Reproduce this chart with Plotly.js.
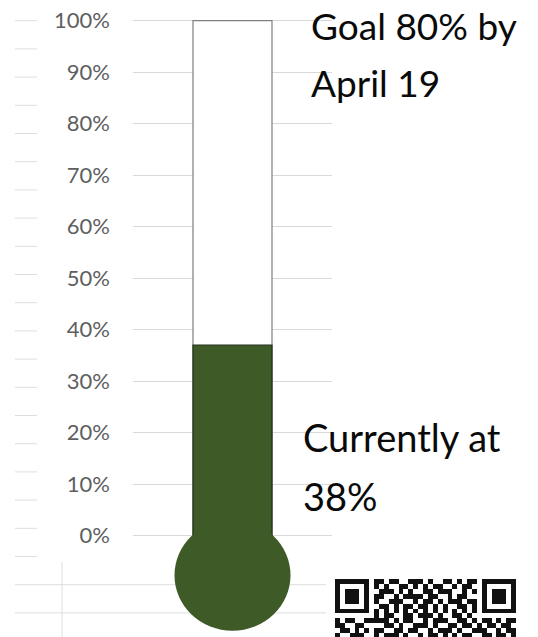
<!DOCTYPE html>
<html>
<head>
<meta charset="utf-8">
<script src="https://cdn.plot.ly/plotly-3.0.1.min.js"></script>
<style>html,body{margin:0;padding:0;background:#fff;}#chart{width:538px;height:637px;}</style>
</head>
<body>
<div id="chart"></div>
<script>
// ---- data ----
const categories = ['Progress'];
const currentPct = [37];
const totalPct = [100];
const tickVals = [0, 10, 20, 30, 40, 50, 60, 70, 80, 90, 100];
const tickText = ['0%', '10%', '20%', '30%', '40%', '50%', '60%', '70%', '80%', '90%', '100%'];
const goalText = ['Goal 80% by', 'April 19'];
const statusText = ['Currently at', '38%'];
const qrRows = [
  '1111111011011001110100110101101111111',
  '1000001010100110101011001011001000001',
  '1011101001110101001101110010101011101',
  '1011101011001011110110010110001011101',
  '1011101010011100101101011101101011101',
  '1000001001101011011010100110101000001',
  '1111111010101010101010101010101111111',
  '0000000010110011011101001101000000000',
  '1011001111101011001011100110101101011',
  '1100110000110100111010011011010110110',
  '0110101011001101100101110100111001011',
  '1001110010111010010110101011001101101'
];

// ---- style / layout constants ----
const W = 538, H = 637;
const px = v => v / W;
const py = v => 1 - v / H;
const green = '#3d5a27';

const qrZ = qrRows.map(r => r.split('').map(Number));

const traces = [
  {type: 'bar', x: categories, y: totalPct, marker: {color: '#ffffff', line: {color: '#7f7f7f', width: 1.2}},
   hoverinfo: 'skip', xaxis: 'x', yaxis: 'y'},
  {type: 'bar', x: categories, y: currentPct, marker: {color: green, line: {color: '#23321a', width: 1.2}},
   hoverinfo: 'skip', xaxis: 'x', yaxis: 'y'},
  {type: 'heatmap', z: qrZ, xaxis: 'x2', yaxis: 'y2', showscale: false, hoverinfo: 'skip',
   colorscale: [[0, '#ffffff'], [1, '#111111']], zmin: 0, zmax: 1}
];

// spreadsheet background lines
const shapes = [];
const rowH = 28.2, firstRow = 20.7;
for (let k = 0; k < 20; k++) {
  const yy = firstRow + k * rowH;
  shapes.push({type: 'line', xref: 'paper', yref: 'paper', x0: px(15), x1: px(37), y0: py(yy), y1: py(yy),
    line: {color: '#dedede', width: 1}, layer: 'below'});
}
for (let k = 20; k < 22; k++) {
  const yy = firstRow + k * rowH;
  shapes.push({type: 'line', xref: 'paper', yref: 'paper', x0: px(15), x1: px(326), y0: py(yy), y1: py(yy),
    line: {color: '#dedede', width: 1}, layer: 'below'});
}
shapes.push({type: 'line', xref: 'paper', yref: 'paper', x0: px(62), x1: px(62), y0: py(562), y1: 0,
  line: {color: '#dedede', width: 1}, layer: 'below'});
// thermometer bulb anchored at the bar's base (0%)
shapes.push({type: 'circle', xref: 'x', yref: 'y', xsizemode: 'pixel', ysizemode: 'pixel',
  xanchor: categories[0], yanchor: tickVals[0], x0: -58, x1: 58, y0: -95, y1: 16,
  fillcolor: green, line: {width: 0}, layer: 'above'});

const fam = 'Lato, "Open Sans", sans-serif';
const annotations = [
  {text: goalText[0], x: px(309), y: py(25), font: {family: fam, size: 37, color: '#0a0a0a'}},
  {text: goalText[1], x: px(309), y: py(83), font: {family: fam, size: 37, color: '#0a0a0a'}},
  {text: statusText[0], x: px(301), y: py(437), font: {family: fam, size: 38, color: '#0a0a0a'}},
  {text: statusText[1], x: px(301), y: py(496), font: {family: fam, size: 38, color: '#0a0a0a'}}
].map(a => Object.assign(a, {xref: 'paper', yref: 'paper', xanchor: 'left', yanchor: 'middle',
  showarrow: false}));

const layout = {
  width: W, height: H,
  margin: {l: 0, r: 0, t: 0, b: 0, pad: 0},
  paper_bgcolor: '#ffffff', plot_bgcolor: 'rgba(0,0,0,0)',
  showlegend: false,
  barmode: 'overlay', bargap: 0.603,
  xaxis: {domain: [px(133), px(332)], type: 'category', range: [-0.5, 0.5], showgrid: false,
    zeroline: false, showticklabels: false, ticks: '', showline: false, fixedrange: true},
  yaxis: {domain: [0, 1], range: [-19.67, 104.02], tickvals: tickVals, ticktext: tickText,
    showgrid: true, gridcolor: '#d9d9d9', gridwidth: 1, zeroline: false, ticks: '', showline: false,
    ticklabelstandoff: 22, tickfont: {family: 'Lato, sans-serif', size: 22, color: '#5f5f5f'}, fixedrange: true},
  xaxis2: {domain: [px(335), px(516)], anchor: 'y2', range: [-0.5, 36.5], visible: false, fixedrange: true},
  yaxis2: {domain: [0, 58 / H], anchor: 'x2', range: [11.34, -0.5], visible: false, fixedrange: true},
  shapes: shapes,
  annotations: annotations
};

Plotly.newPlot('chart', traces, layout, {displayModeBar: false, staticPlot: true});
</script>
</body>
</html>
